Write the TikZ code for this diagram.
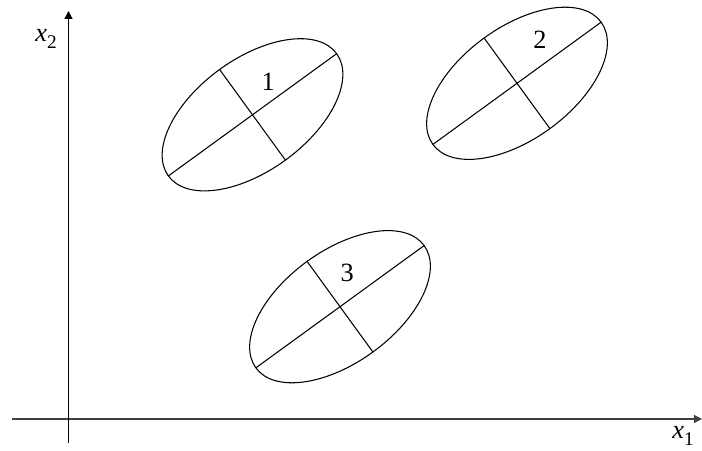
\documentclass[tikz,border=0pt]{standalone}
\usepackage{fontspec}
\setmainfont{Liberation Serif}
\usetikzlibrary{arrows.meta}

\tikzset{
    axisline/.style={line width=0.7pt, -{Triangle[length=4.5pt,width=4.5pt]}},
    clusterline/.style={line width=0.6pt}
}

\begin{document}
\begin{tikzpicture}[x=0.02cm, y=0.02cm, font=\fontsize{15}{18}\selectfont]
    \useasboundingbox (0,0) rectangle (702,450);
    % axes
    \coordinate (xstart) at (12,31);
    \coordinate (xend) at (702,31);
    \coordinate (ystart) at (68.5,7);
    \coordinate (yend) at (68.5,439);
    \draw[axisline, draw=black!75] (xstart) -- (xend);
    \draw[axisline] (ystart) -- (yend);
    \node (xlab) at (683,14) {\textit{x}\raisebox{-0.55ex}{\fontsize{11}{13}\selectfont 1}};
    \node (ylab) at (46,411) {\textit{x}\raisebox{-0.55ex}{\fontsize{11}{13}\selectfont 2}};
    % clusters
    \foreach \cx/\cy/\lx/\ly/\n in {252.5/335.2/268.3/368.3/1, 517/366.7/540/410/2, 340/143.3/347.3/176.7/3} {
        \begin{scope}[shift={(\cx,\cy)}, rotate=36]
            \draw[clusterline] (0,0) ellipse (104 and 56);
            \draw[clusterline] (-104,0) -- (104,0);
            \draw[clusterline] (0,-56) -- (0,56);
        \end{scope}
        \node (lab\n) at (\lx,\ly) {\n};
    }
\end{tikzpicture}
\end{document}
